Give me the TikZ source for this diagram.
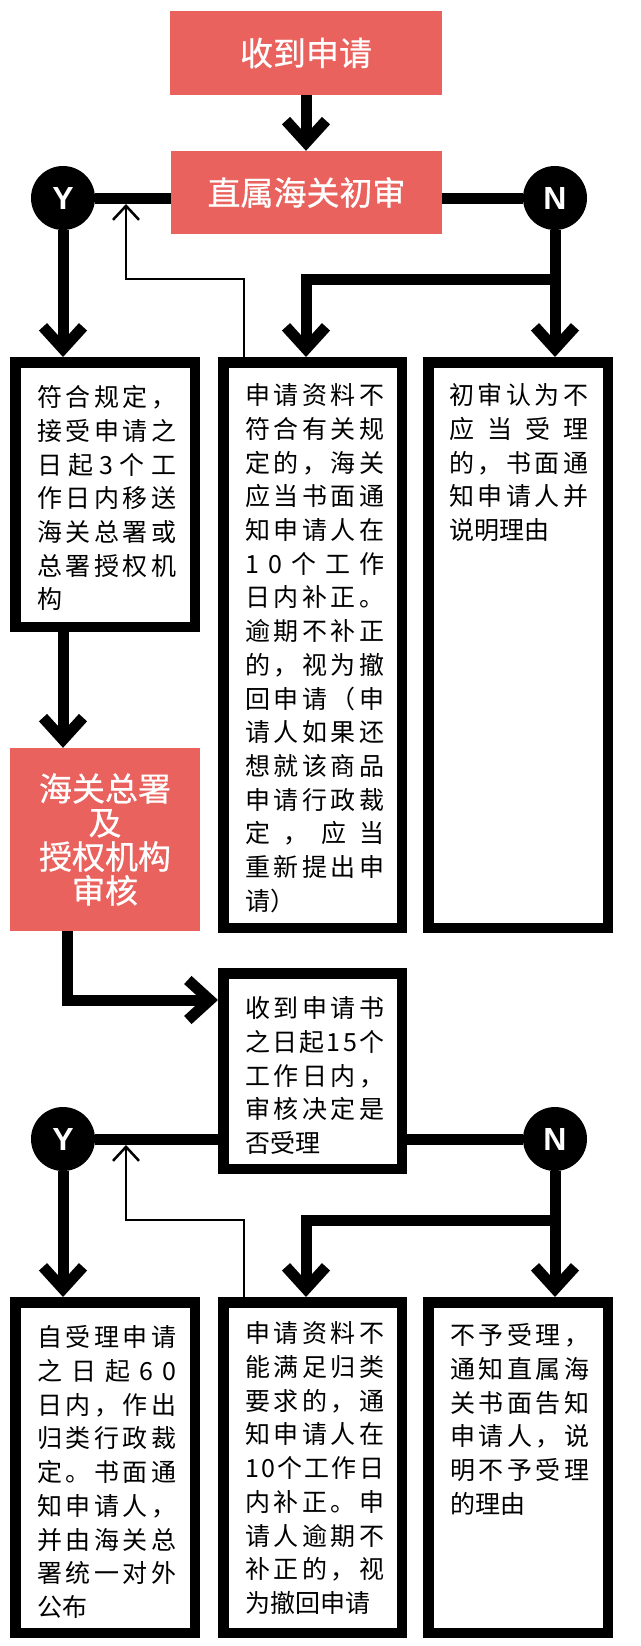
\documentclass[tikz,border=0pt]{standalone}
\usepackage{fontspec}
\newfontfamily\cjk{Noto Sans CJK SC}
\newfontfamily\cjkt[FakeBold=0.6]{Noto Sans CJK SC}
\newfontfamily\lat{Liberation Sans}
\usetikzlibrary{arrows.meta,calc}
\definecolor{redbox}{RGB}{233,98,94}
\newlength\tw \setlength\tw{139pt}
\def\spreadA#1{#1\spreadB}
\def\spreadB#1{\ifx#1\relax\else\hfill#1\expandafter\spreadB\fi}
\newcommand\jl[1]{\makebox[\tw][s]{\spreadA#1\relax}\\}
\newcommand\bodyfont{\cjk\fontsize{25}{33.7}\selectfont}
\newcommand\blk[1]{\parbox[t]{\tw}{\bodyfont\strut#1}}
\tikzset{
  redbox/.style={rectangle, fill=redbox, text=white, inner sep=0pt, align=center,
    font=\cjkt\fontsize{33}{34}\selectfont},
  frame/.style={rectangle, draw=black, line width=10.5pt, inner sep=0pt},
  yn/.style={circle, fill=black, minimum size=64pt, inner sep=0pt, text=white,
    font=\lat\bfseries\fontsize{32}{32}\selectfont},
  txt/.style={anchor=north west, inner sep=0pt, text=black},
  thk/.style={line width=11pt, draw=black},
  arr/.style={-{Straight Barb[length=22pt,width=40pt]}},
  thn/.style={line width=2.5pt, draw=black, -{Straight Barb[length=14pt,width=26pt]}},
}
\begin{document}
\begin{tikzpicture}[x=1pt,y=-1pt]
\fill[white] (0,0) rectangle (640,1646);
\useasboundingbox (0,0) rectangle (640,1646);

% top red boxes
\node[redbox, minimum width=272pt, minimum height=84pt] (recv) at (306,53) {收到申请};
\node[redbox, minimum width=271pt, minimum height=83pt] (init) at (306.5,192.5) {直属海关初审};
\node[yn] (Y1) at (63,198) {Y};
\node[yn] (N1) at (555,198) {N};

% row 1 frames
\node[frame, minimum width=179.5pt, minimum height=264.5pt] (L1) at (105,494.5) {};
\node[frame, minimum width=178.5pt, minimum height=565.5pt] (M1) at (312.5,645) {};
\node[frame, minimum width=179.5pt, minimum height=565.5pt] (R1) at (518,645) {};

% audit red box
\node[redbox, minimum width=190pt, minimum height=183pt] (aud) at (105,839.5) {海关总署\\及\\授权机构\\审核};

% second decision frame
\node[frame, minimum width=178.5pt, minimum height=195.5pt] (D2) at (312.5,1071) {};
\node[yn] (Y2) at (63,1139) {Y};
\node[yn] (N2) at (555,1139) {N};

% row 2 frames
\node[frame, minimum width=179.5pt, minimum height=330.5pt] (L2) at (105,1467.5) {};
\node[frame, minimum width=178.5pt, minimum height=330.5pt] (M2) at (312.5,1467.5) {};
\node[frame, minimum width=179.5pt, minimum height=330.5pt] (R2) at (518,1467.5) {};

% texts
\node[txt] (tL1) at (37,383) {\blk{\jl{符合规定，}\jl{接受申请之}\jl{日起3个工}\jl{作日内移送}\jl{海关总署或}\jl{总署授权机}构}};
\node[txt] (tM1) at (245,381) {\blk{\jl{申请资料不}\jl{符合有关规}\jl{定的，海关}\jl{应当书面通}\jl{知申请人在}\jl{10个工作}\jl{日内补正。}\jl{逾期不补正}\jl{的，视为撤}\jl{回申请（申}\jl{请人如果还}\jl{想就该商品}\jl{申请行政裁}\jl{定，应当}\jl{重新提出申}请）}};
\node[txt] (tR1) at (449,381) {\blk{\jl{初审认为不}\jl{应当受理}\jl{的，书面通}\jl{知申请人并}说明理由}};
\node[txt] (tD2) at (245,994) {\blk{\jl{收到申请书}\jl{之日起15个}\jl{工作日内，}\jl{审核决定是}否受理}};
\node[txt] (tL2) at (37,1323) {\blk{\jl{自受理申请}\jl{之日起60}\jl{日内，作出}\jl{归类行政裁}\jl{定。书面通}\jl{知申请人，}\jl{并由海关总}\jl{署统一对外}公布}};
\node[txt] (tM2) at (245,1319) {\blk{\jl{申请资料不}\jl{能满足归类}\jl{要求的，通}\jl{知申请人在}\jl{10个工作日}\jl{内补正。申}\jl{请人逾期不}\jl{补正的，视}为撤回申请}};
\node[txt] (tR2) at (450,1321) {\blk{\jl{不予受理，}\jl{通知直属海}\jl{关书面告知}\jl{申请人，说}\jl{明不予受理}的理由}};

% helper coordinates
\coordinate (b1) at (555,279);
\coordinate (m1in) at ([xshift=-6.5pt]M1.north);
\coordinate (f1a) at ([xshift=-68.5pt]M1.north);
\coordinate (f1b) at (126,279);
\coordinate (f1c) at (126,204);
\coordinate (c3) at (67,1000);
\coordinate (b2) at (555,1220);
\coordinate (m2in) at ([xshift=-6.5pt]M2.north);
\coordinate (f2a) at ([xshift=-68.5pt]M2.north);
\coordinate (f2b) at (126,1220);
\coordinate (f2c) at (126,1145);

% connectors, upper part
\draw[thk, arr] (recv.south) -- (recv.south |- init.north);
\draw[thk] (Y1) -- (Y1 -| init.west);
\draw[thk] (N1) -- (N1 -| init.east);
\draw[thk, arr] (Y1) -- (Y1 |- L1.north);
\draw[thk, arr] (N1) -- (N1 |- R1.north);
\draw[thk, arr] (b1) -| (m1in);
\draw[thn] (f1a) |- (f1b) -- (f1c);
\draw[thk, arr] (Y1 |- L1.south) -- (Y1 |- aud.north);
\draw[thk, arr] (c3 |- aud.south) -- (c3) -- (c3 -| D2.west);

% connectors, lower part
\draw[thk] (Y2) -- (Y2 -| D2.west);
\draw[thk] (N2) -- (N2 -| D2.east);
\draw[thk, arr] (Y2) -- (Y2 |- L2.north);
\draw[thk, arr] (N2) -- (N2 |- R2.north);
\draw[thk, arr] (b2) -| (m2in);
\draw[thn] (f2a) |- (f2b) -- (f2c);
\end{tikzpicture}
\end{document}
